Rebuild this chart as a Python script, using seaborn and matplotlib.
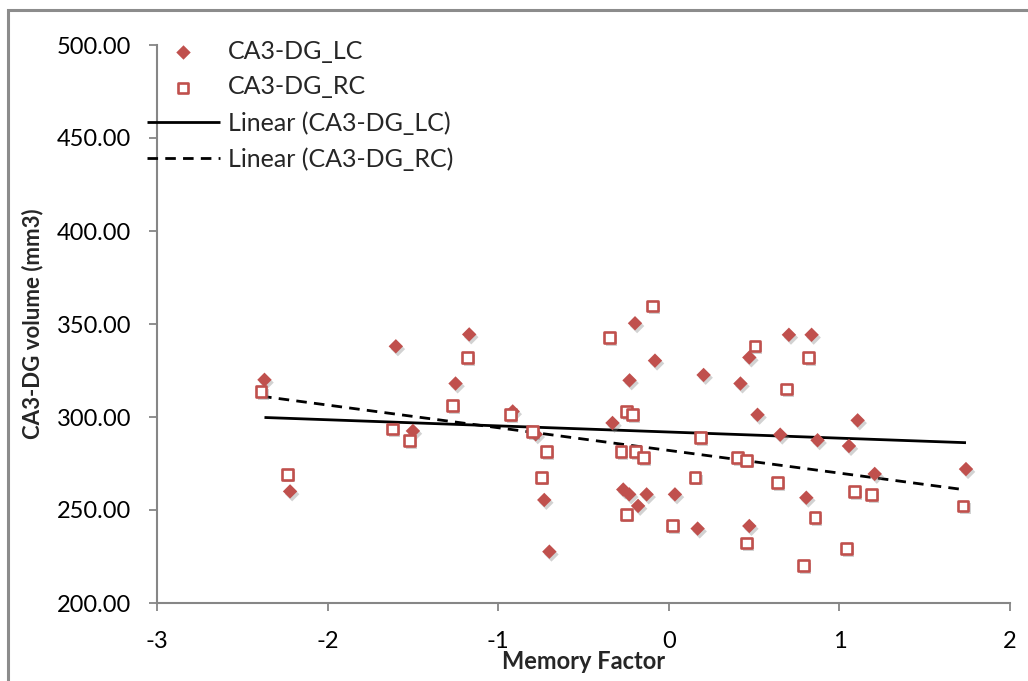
import numpy as np
import pandas as pd
import matplotlib
matplotlib.use("Agg")
import matplotlib.pyplot as plt
import matplotlib.patheffects as pe
from matplotlib.patches import Rectangle
import seaborn as sns

# ---- data ----
lc_x = [-2.37, -2.22, -1.60, -1.50, -1.25, -1.17, -0.915, -0.78, -0.73, -0.70,
        -0.33, -0.267, -0.232, -0.23, -0.198, -0.18, -0.13, -0.081, 0.036, 0.169,
        0.204, 0.42, 0.472, 0.472, 0.52, 0.653, 0.704, 0.806, 0.837, 0.872,
        1.056, 1.107, 1.207, 1.742]
lc_y = [320.0, 260.0, 338.0, 292.5, 318.0, 344.4, 303.0, 290.7, 255.4, 227.6,
        296.8, 261.0, 258.4, 319.7, 350.4, 252.2, 258.4, 330.3, 258.4, 240.0,
        322.6, 318.0, 241.4, 332.0, 301.2, 290.5, 344.2, 256.6, 344.2, 287.5,
        284.4, 298.2, 269.4, 272.0]
rc_x = [-2.39, -2.236, -1.62, -1.52, -1.27, -1.18, -0.93, -0.80, -0.747, -0.716,
        -0.347, -0.28, -0.247, -0.247, -0.212, -0.196, -0.147, -0.097, 0.02, 0.154,
        0.187, 0.403, 0.454, 0.454, 0.505, 0.637, 0.688, 0.788, 0.821, 0.857,
        1.04, 1.089, 1.19, 1.725]
rc_y = [313.6, 269.2, 293.5, 287.3, 306.0, 332.0, 301.4, 292.1, 267.6, 281.3,
        342.6, 281.3, 302.9, 247.7, 301.4, 281.3, 278.1, 359.7, 241.6, 267.6,
        289.0, 278.3, 276.7, 232.3, 338.2, 264.7, 315.0, 220.1, 332.0, 245.8,
        229.2, 259.8, 258.4, 252.2]
x_ticks = [-3, -2, -1, 0, 1, 2]
y_ticks = [200, 250, 300, 350, 400, 450, 500]
lc_label = "CA3-DG_LC"
rc_label = "CA3-DG_RC"
lc_trend_label = "Linear (CA3-DG_LC)"
rc_trend_label = "Linear (CA3-DG_RC)"
x_title = "Memory Factor"
y_title = "CA3-DG volume (mm3)"

df_lc = pd.DataFrame({"x": lc_x, "y": lc_y})
df_rc = pd.DataFrame({"x": rc_x, "y": rc_y})

sns.set_theme(style="white")
plt.rcParams["font.family"] = ["Lato", "DejaVu Sans"]

RED = "#C0504D"
GRAY = "#868686"
FS = 17

fig = plt.figure(figsize=(10.28, 6.81), dpi=100)
ax = fig.add_axes([157/1028, 1 - 603/681, (1010-157)/1028, (603-45)/681])

shadow = [pe.SimplePatchShadow(offset=(1.5, -2), shadow_rgbFace="#808080", alpha=0.35), pe.Normal()]

sns.regplot(data=df_lc, x="x", y="y", ax=ax, scatter=False, ci=None,
            line_kws=dict(color="black", lw=2.0, solid_capstyle="butt"),
            label=lc_trend_label)
sns.regplot(data=df_rc, x="x", y="y", ax=ax, scatter=False, ci=None,
            line_kws=dict(color="black", lw=2.0, dashes=(3.8, 2.6), dash_capstyle="butt"),
            label=rc_trend_label)

sns.scatterplot(data=df_lc, x="x", y="y", ax=ax, marker="D", s=54, color=RED,
                edgecolor=RED, linewidth=0, label=lc_label, zorder=3)
sns.scatterplot(data=df_rc, x="x", y="y", ax=ax, marker="s", s=60, facecolor="white",
                edgecolor=RED, linewidth=1.9, label=rc_label, zorder=3)
for coll in ax.collections:
    coll.set_path_effects(shadow)

ax.set_xlim(-3, 2)
ax.set_ylim(200, 500)
ax.set_xticks(x_ticks)
ax.set_yticks(y_ticks)
ax.set_xticklabels([str(v) for v in x_ticks])
ax.set_yticklabels([f"{v:.2f}" for v in y_ticks])

for side in ["top", "right"]:
    ax.spines[side].set_visible(False)
for side in ["left", "bottom"]:
    ax.spines[side].set_color(GRAY)
    ax.spines[side].set_linewidth(1.5)

ax.tick_params(axis="both", which="major", direction="out", length=5.5, width=1.3,
               color=GRAY, labelsize=FS, labelcolor="black")
ax.tick_params(axis="y", pad=13)
ax.tick_params(axis="x", pad=15)
ax.tick_params(left=True, bottom=True)

ax.set_xlabel(x_title, fontsize=FS, fontweight="bold", labelpad=-2)
ax.set_ylabel(y_title, fontsize=16, fontweight="bold", labelpad=10)

# legend order: markers first, then trendlines
handles, labels = ax.get_legend_handles_labels()
order = [labels.index(lc_label), labels.index(rc_label),
         labels.index(lc_trend_label), labels.index(rc_trend_label)]
leg = ax.legend([handles[i] for i in order], [labels[i] for i in order],
                loc="upper left", bbox_to_anchor=(147/1028, 1 - 40/681),
                bbox_transform=fig.transFigure, frameon=False, fontsize=18,
                handlelength=2.9, handletextpad=0.35, labelspacing=0.5,
                borderpad=0, borderaxespad=0)
for h in leg.legend_handles:
    try:
        h.set_path_effects([])
    except Exception:
        pass

# chart area border
fig.patches.append(Rectangle((8/1028, -0.1), 1.2, 1 - 10/681 + 0.1,
                             transform=fig.transFigure, fill=False,
                             edgecolor="#8C8C8C", linewidth=2.2))

fig.savefig("out.png", dpi=100, facecolor="white")
